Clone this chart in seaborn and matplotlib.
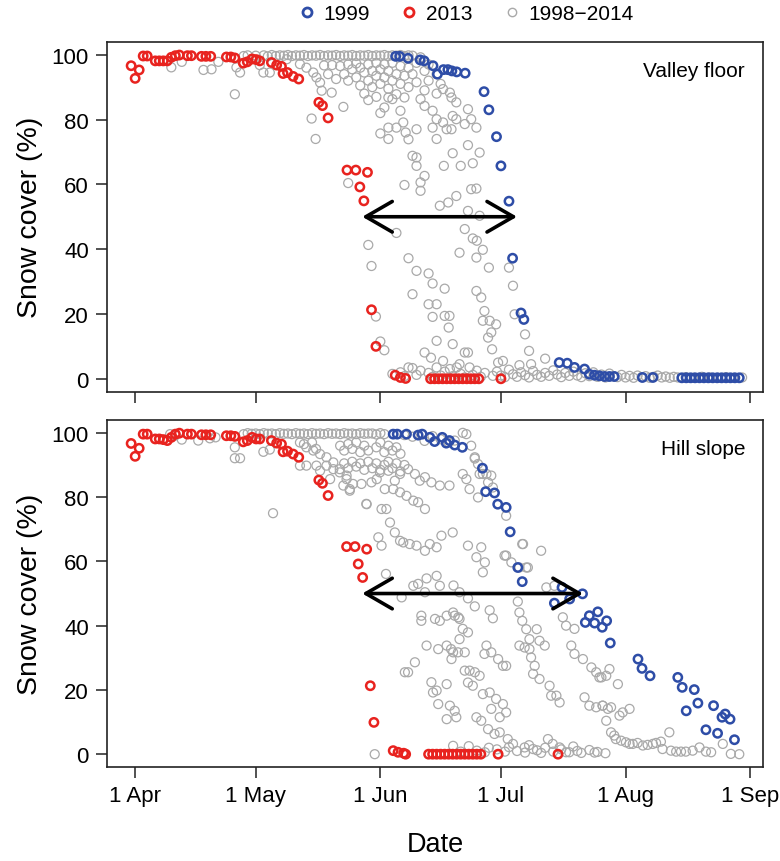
import matplotlib
matplotlib.use("Agg")
import matplotlib.pyplot as plt
from matplotlib.lines import Line2D
from matplotlib.patches import FancyArrowPatch
import seaborn as sns
import pandas as pd

# ---------------------------------------------------------------------------
# Data: day of year vs. fractional snow cover (%)
# ---------------------------------------------------------------------------
month_ticks = [91, 121, 152, 182, 213, 244]
month_labels = ["1 Apr", "1 May", "1 Jun", "1 Jul", "1 Aug", "1 Sep"]
legend_labels = ["1999", "2013", "1998\u22122014"]
panel_names = ["Valley floor", "Hill slope"]

# 2013 season, valley floor
valley_2013 = [
    (90, 96.6), (91, 92.7), (92, 95.3), (93, 99.6), (94, 99.6), (96, 98.1), (97, 98.1),
    (98, 98.1), (99, 98.1), (100, 99.2), (101, 99.7), (102, 99.9), (104, 99.7), (105, 99.7),
    (107.5, 99.5), (108.6, 99.5), (109.8, 99.5), (113.7, 99.3), (114.8, 99.3), (115.8, 99.0),
    (117.9, 97.4), (118.9, 97.8), (120.1, 98.7), (121.1, 98.5), (122, 98.1), (124.9, 97.6),
    (126.2, 96.8), (127.4, 96.4), (127.8, 94.2), (128.9, 94.5), (130.3, 93.3), (131.7, 92.5),
    (136.7, 85.3), (137.6, 84.3), (139, 80.5), (143.7, 64.4), (145.9, 64.4), (148.8, 63.7),
    (146.9, 59.2), (147.9, 54.9), (149.8, 21.3), (150.9, 10.0), (155.7, 1.1), (157, 0.4),
    (158.3, 0.1), (164.5, 0), (165.5, 0), (166.5, 0), (167.5, 0), (168.5, 0), (169.5, 0),
    (170.5, 0), (171.5, 0), (172.5, 0), (173.5, 0), (174.5, 0), (175.5, 0), (176.5, 0),
    (182, 0),
]

# 1999 season, valley floor
valley_1999 = [
    (155.8, 99.5), (156.8, 99.5), (158.9, 98.9), (161.9, 98.4), (162.9, 98.1), (165.1, 96.6),
    (166.2, 94.0), (167.7, 95.4), (168.8, 95.4), (169.8, 95.0), (171, 94.7), (173.1, 94.3),
    (177.8, 88.6), (179, 83.0), (180.9, 74.7), (182, 65.7), (184, 54.8), (184.9, 37.2),
    (187, 20.3), (187.7, 18.3), (196.5, 5.0), (198.5, 4.8), (200.3, 3.5), (202.8, 3.0),
    (204, 1.4), (205.3, 1.1), (206.5, 0.9), (207.8, 0.7), (209, 0.7), (210.2, 0.7),
    (217.2, 0.4), (219.8, 0.4), (227, 0.3), (228.1, 0.3), (229.2, 0.3), (230.3, 0.3),
    (231.4, 0.3), (232.5, 0.3), (233.6, 0.3), (234.7, 0.3), (235.8, 0.3), (236.9, 0.3),
    (238, 0.3), (239.1, 0.3), (240.2, 0.3), (241.3, 0.3),
]

# All seasons 1998-2014, valley floor
valley_all = [
    (100, 96.1), (102.6, 97.8), (108, 95.3), (110, 95.5), (111.7, 97.8), (115.8, 87.8),
    (116.2, 96.1), (117.1, 94.5), (118, 99.6), (119, 99.8), (120, 98.6), (121, 99.7),
    (122, 96.8), (122.9, 94.5), (123, 99.8), (124, 99.5), (124.5, 94.5), (125, 99.9),
    (126, 99.6), (127, 99.8), (128, 99.7), (128.7, 98.6), (129, 99.9), (130, 99.6),
    (131, 99.8), (132, 97.1), (132, 99.7), (133, 99.9), (133.6, 96.0), (134, 99.6),
    (134.9, 80.3), (135, 99.8), (135.3, 94.5), (135.9, 74.0), (136, 99.7), (136.1, 93.0),
    (137, 91.4), (137, 99.9), (137.4, 88.9), (138, 99.6), (138, 96.7), (139, 99.8),
    (139, 94.0), (139.9, 88.3), (140, 96.8), (140, 99.7), (141, 99.9), (141, 92.5),
    (142, 99.6), (142, 96.5), (142.8, 83.9), (143, 99.8), (143, 94.0), (144, 99.7),
    (144, 97.0), (144, 92.0), (144, 60.4), (145, 99.9), (145, 95.5), (146, 99.6),
    (146, 97.3), (146, 93.0), (147, 99.8), (147, 96.0), (147, 90.5), (148, 99.7),
    (148, 94.5), (148, 88.0), (149, 99.9), (149, 97.0), (149, 92.0), (149, 86.0),
    (149, 41.3), (149.8, 34.8), (150, 99.6), (150, 95.0), (150, 90.0), (151, 99.8),
    (151, 97.5), (151, 93.5), (151, 87.0), (150.9, 19.2), (152, 99.7), (152, 95.5),
    (152, 91.0), (152, 82.0), (152, 75.7), (152, 11.5), (153, 99.9), (153, 97.0),
    (153, 93.0), (153, 83.7), (153, 8.8), (154, 99.6), (154, 95.0), (154, 89.5),
    (154, 86.8), (154, 77.5), (154, 74.0), (155, 99.8), (155, 97.5), (155, 92.0),
    (155, 86.3), (156, 99.7), (156, 94.0), (156, 87.8), (156, 77.5), (156, 45.0),
    (157, 99.9), (157, 96.5), (157, 91.0), (157, 82.7), (157.7, 79.1), (158, 99.6),
    (158, 93.5), (158, 86.8), (158, 59.8), (158.3, 76.0), (159, 99.8), (159, 96.0),
    (159, 90.0), (159, 73.9), (159, 37.2), (159, 3.5), (160, 99.7), (160, 94.0),
    (160, 26.1), (160, 3.3), (160, 68.8), (161, 97.5), (161, 91.5), (161, 77.0),
    (161, 68.3), (161, 65.7), (161, 33.3), (162, 99.2), (162, 86.3), (162, 60.6),
    (162, 58.0), (163, 95.0), (163, 89.0), (163, 62.6), (163, 84.2), (163, 8.1),
    (164, 97.0), (164, 92.0), (164, 32.5), (164, 23.0), (164.6, 6.5), (165, 82.7),
    (165, 77.5), (165, 29.4), (165, 19.1), (166, 94.0), (166, 88.0), (166, 80.1),
    (166, 74.0), (166, 23.0), (166, 11.7), (166, 3.5), (166.8, 53.4), (167, 91.0),
    (167.6, 79.1), (167.6, 89.4), (167.6, 5.5), (167.8, 65.7), (168, 27.8), (168, 19.4),
    (168.5, 77.0), (168.9, 54.4), (169, 15.8), (169.3, 88.3), (169.3, 3.0), (169.2, 19.4),
    (169.7, 86.8), (169.7, 77.0), (170, 81.1), (170, 69.6), (170, 10.7), (170.9, 85.3),
    (170.9, 80.1), (170.9, 56.4), (171, 3.5), (171.7, 38.9), (171.7, 4.5), (172, 65.7),
    (173, 78.6), (173, 46.2), (173, 8.1), (173.8, 83.2), (173.8, 72.1), (173.8, 51.8),
    (173.8, 8.1), (174.2, 3.5), (174.6, 80.1), (174.6, 58.5), (175, 66.5), (175, 43.3),
    (175.9, 77.5), (175.9, 58.7), (175.9, 37.4), (175.9, 27.1), (176, 42.6), (176.7, 69.8),
    (176.7, 50.3), (177.1, 25.1), (177.5, 39.8), (177.5, 17.9), (177.9, 20.9), (178.8, 12.7),
    (179, 34.3), (179.2, 17.9), (179.6, 14.3), (179.8, 9.1), (180.8, 16.8), (181.3, 5.0),
    (182.5, 5.5), (184, 34.3), (185, 28.7), (185.4, 19.9), (186.6, 4.2), (188, 13.7),
    (189, 8.6), (189.5, 4.5), (193, 6.2),
    (155, 1.5), (157, 2.0), (158, 0.8), (161, 1.2), (162, 2.5), (164, 1.8), (165, 0.6),
    (167, 1.0), (168, 2.2), (170, 0.8), (172, 1.5), (173, 0.4), (175, 1.2), (176, 2.5),
    (177, 0.6), (178, 1.8), (180, 0.9), (181, 2.2), (182, 1.0), (183, 0.5), (184, 2.8),
    (185, 1.4), (186, 0.6), (187, 2.0), (188, 1.1), (189, 0.4), (190, 2.4), (191, 1.2),
    (192, 0.6), (193, 1.8), (194, 0.9), (195, 2.6), (196, 1.3), (197, 0.5), (198, 1.8),
    (199, 0.9), (200, 2.2), (201, 1.0), (202, 0.5), (203, 1.7), (204, 0.8), (205, 2.0),
    (206, 0.6), (207, 1.3), (208, 0.4), (209, 1.6), (210, 0.8), (211, 0.5), (212, 1.2),
    (213, 0.4), (214, 0.9), (215, 0.3), (216, 1.0), (217, 0.5), (218, 0.8), (219, 0.3),
    (220, 0.6), (221, 1.0), (222, 0.4), (223, 0.7), (224, 0.3), (225, 0.6), (226, 0.4),
    (228, 0.5), (230, 0.3), (232, 0.6), (234, 0.4), (236, 0.3), (238, 0.5), (240, 0.3),
    (242, 0.4),
]

# 2013 season, hill slope
hill_2013 = [
    (90, 96.7), (91, 92.7), (92, 95.2), (93, 99.6), (94, 99.6), (96, 98.1), (97, 98.1),
    (98, 97.9), (99, 97.6), (100, 98.6), (101, 99.6), (102, 99.9), (104, 99.6), (105, 99.6),
    (107.5, 99.4), (108.6, 99.4), (109.8, 99.4), (113.7, 99.1), (114.8, 99.1), (115.8, 98.9),
    (117.9, 97.2), (118.9, 97.6), (120.1, 98.6), (121.1, 98.1), (122, 98.1), (124.9, 97.6),
    (126.2, 96.8), (127.4, 96.5), (127.8, 94.1), (128.9, 94.3), (130.3, 93.4), (131.7, 92.4),
    (136.7, 85.3), (137.6, 84.3), (139, 80.5), (143.6, 64.6), (145.7, 64.6), (148.6, 63.8),
    (146.5, 59.2), (147.6, 55.0), (149.5, 21.3), (150.4, 9.9), (155.2, 1.1), (156.4, 0.6),
    (157.8, 0.3), (158.3, 0.0), (164, 0), (165, 0), (166, 0), (167, 0), (168, 0), (169, 0),
    (170, 0), (171, 0), (172, 0), (173, 0), (174, 0), (175, 0), (176, 0), (177, 0),
    (181.3, 0), (196.2, 0),
]

# 1999 season, hill slope
hill_1999 = [
    (155.2, 99.6), (156.2, 99.6), (158.5, 99.6), (161.4, 99.3), (162.4, 99.6), (164.3, 98.6),
    (165.5, 97.3), (167.4, 98.6), (168.4, 96.8), (169.2, 97.6), (170.5, 96.2), (172.4, 95.5),
    (177.4, 89.0), (178.2, 81.7), (180.4, 81.3), (181.2, 77.8), (183.3, 76.8), (184.3, 69.2),
    (186.2, 58.1), (187.3, 53.7), (197.2, 51.9), (195.3, 47.0), (199.1, 48.3), (202.3, 49.9),
    (204, 43.1), (206.1, 44.3), (203, 41.0), (205.3, 40.8), (207.2, 39.5), (208.3, 41.5),
    (209.2, 34.6), (216.1, 29.6), (217.1, 26.7), (219.1, 24.4), (226, 23.9), (227.1, 20.8),
    (230.1, 20.1), (228.1, 13.5), (231, 15.9), (234.9, 15.1), (237, 11.5), (237.8, 12.5),
    (239, 10.9), (233, 7.6), (235.9, 6.5), (240.1, 4.5),
]

# All seasons 1998-2014, hill slope
hill_all = [
    (99.7, 99.6), (101, 99.2), (102.6, 97.9), (106.7, 97.6), (109.6, 98.3), (111, 98.6),
    (115.8, 95.5), (115.8, 92.1), (117.1, 92.1), (122.9, 94.1), (124.5, 94.8), (125.3, 75.0),
    (118, 99.6), (119, 99.9), (120, 99.7), (121, 99.8), (122, 99.6), (123, 99.9), (124, 99.7),
    (125, 99.8), (126, 99.6), (127, 99.9), (128, 99.7), (129, 99.8), (130, 99.6), (131, 99.9),
    (132, 99.7), (133, 99.8), (134, 99.6), (135, 99.9), (136, 99.7), (137, 99.8), (138, 99.6),
    (139, 99.9), (140, 99.7), (141, 99.8), (142, 99.6), (143, 99.9), (144, 99.7), (145, 99.8),
    (146, 99.6), (147, 99.9), (148, 99.7), (149, 99.8), (150, 99.8), (151, 99.5), (152, 99.9),
    (153, 99.6), (158, 99.3), (160, 98.8), (163, 97.5), (165, 99.0), (167, 98.0), (169, 97.0),
    (172.5, 100.0), (173.4, 99.6),
    (132, 97.0), (133.6, 95.5), (135.3, 94.5), (137, 93.4), (138.6, 92.4), (140.3, 90.8),
    (141.9, 88.7), (143.6, 86.7), (145.2, 84.1), (132, 89.8), (133.6, 89.8), (136.1, 89.8),
    (138.6, 89.8), (140.3, 88.7), (141.9, 87.7), (143.6, 85.6), (144.4, 82.5), (148.5, 77.9),
    (133, 96.5), (135, 97.0), (136, 95.0), (142, 96.0), (143, 94.5), (144, 96.5), (145, 95.0),
    (146, 97.0), (147, 94.0), (148, 96.0), (149, 94.5), (151, 95.5), (152, 97.0), (153, 94.0),
    (154, 96.0), (155, 94.5), (156, 95.5), (157, 93.5),
    (143, 90.5), (144, 89.0), (145, 91.0), (146, 89.5), (147, 90.5), (148, 88.5), (149, 91.0),
    (150, 89.0), (151, 90.5), (152, 88.5), (153, 90.0), (154, 91.0), (155, 89.0), (156, 90.5),
    (157, 88.0), (158, 90.0),
    (137, 88.2), (139.5, 85.6), (142.8, 83.6), (144.4, 82.0), (148.6, 77.8), (152.3, 76.3),
    (153.5, 76.3), (147.3, 84.1), (149.8, 84.6), (151.9, 87.7), (154, 88.2), (155.6, 85.1),
    (156.9, 87.2), (158.9, 88.7), (160.6, 87.2), (161.8, 85.1), (163.1, 86.2), (164.7, 84.6),
    (166.8, 83.6), (151.1, 85.6), (153.1, 82.5), (155.2, 82.5), (156.9, 81.5), (158.5, 80.4),
    (160.2, 78.9), (161.4, 78.4), (163.1, 76.3), (154.4, 72.1), (155.6, 69.0), (156.9, 66.4),
    (157.7, 65.9), (159.3, 65.4), (161, 64.9), (163.1, 63.3), (164.3, 65.4), (166, 64.4),
    (167.2, 68.0), (151.5, 67.5), (152.3, 64.9), (153.4, 56.1), (157.3, 48.8), (160.2, 52.4),
    (161.4, 53.0), (163.5, 54.7), (163.1, 50.4), (166, 55.5), (166.8, 52.4), (162.2, 43.1),
    (162.2, 41.5), (165.6, 42.1), (166.8, 41.5), (168.5, 43.1), (170.1, 44.1), (171.4, 42.6),
    (163.5, 33.8), (166.4, 32.7), (168.5, 33.8), (170.1, 31.7), (169.7, 29.6), (160.6, 28.6),
    (158.9, 25.5), (158.1, 25.5), (164.7, 22.4), (166, 19.8), (165.1, 19.2), (168.5, 21.8),
    (166.4, 15.6), (169.3, 15.1), (170.5, 13.5), (168.5, 10.9), (170.9, 11.5), (150.6, 0.0),
    (170.1, 2.6),
    (170.5, 97.6), (174.6, 96.0), (175.5, 92.4), (177.5, 87.2), (178.8, 84.6), (174.2, 82.5),
    (176.3, 79.9), (173.4, 85.6), (172.5, 87.2), (169.2, 83.6), (170, 69.0), (173.8, 64.9),
    (175.9, 61.3), (177.1, 64.4), (178, 59.7), (177.5, 56.6), (182.9, 61.8), (184.6, 59.7),
    (186.6, 58.1), (188.7, 58.1), (187.5, 65.4), (192, 63.3), (193.3, 51.9), (195.3, 52.4),
    (186.2, 47.5), (186.6, 44.1), (187.3, 41.5), (188.3, 38.9), (189.1, 35.8), (190.9, 38.9),
    (191.6, 35.3), (192.9, 33.8), (189.1, 32.7), (187.9, 33.2), (186.6, 33.8), (189.5, 30.1),
    (190.4, 27.5), (190, 25.0), (191.6, 23.4), (194.1, 21.3), (194.5, 18.2), (195.8, 18.2),
    (196.6, 16.1), (178.4, 33.8), (179.6, 31.7), (177.9, 31.2), (181.3, 29.6), (182.5, 27.5),
    (183.3, 27.5), (170.5, 43.1), (171.7, 42.1), (172.5, 39.0), (173.8, 37.9), (171.7, 35.8),
    (171.3, 31.7), (169.6, 32.7), (173, 31.7), (173, 26.0), (174.2, 26.0), (175.5, 25.5),
    (176.7, 24.4), (173.8, 22.3), (175, 21.3), (177.5, 18.7), (179.2, 19.2), (180.8, 17.2),
    (182.5, 15.6), (179.6, 14.1), (181.7, 11.5), (183.3, 13.0), (175.9, 11.5), (177.1, 10.4),
    (178.8, 7.8), (180.4, 6.3), (181.7, 6.8), (183.7, 4.7), (185, 3.2), (187.9, 2.1),
    (190, 1.6), (193.7, 4.7), (194.9, 3.2), (196.6, 2.1), (198.2, 0.6), (197.4, 42.6),
    (198.2, 40.0), (200.3, 39.0), (199.5, 33.8), (200.3, 31.2), (202.4, 29.6), (204.5, 27.0),
    (205.7, 25.5), (207, 23.9), (208.2, 24.4), (202.8, 17.7), (204, 15.1), (205.7, 14.6),
    (207.3, 15.1), (208.6, 14.1), (205.3, 0.5), (179.2, 44.8), (180, 42.3), (173.8, 48.5),
    (175.5, 46.0), (171.7, 50.4), (170.2, 52.5), (175.5, 92.0), (176.3, 90.3), (176.7, 87.2),
    (178.4, 87.2), (179.6, 86.7), (180, 83.0), (183.3, 74.2), (187.3, 65.4), (188.3, 58.1),
    (183.3, 61.8),
    (181, 1.5), (183, 0.8), (184, 2.2), (186, 1.0), (188, 0.5), (189, 2.8), (191, 1.2),
    (192, 0.4), (193, 2.0), (195, 0.8), (197, 1.5), (199, 0.6), (200, 2.4), (201, 1.0),
    (202, 0.4), (204, 1.3), (206, 0.7), (208, 0.3), (172, 0.8), (174, 2.5), (176, 1.1),
    (178, 0.6), (179, 2.0),
    (209, 26.5), (211.1, 21.8), (206.5, 23.9), (207.3, 15.1), (209.4, 14.6), (208.2, 10.4),
    (209.4, 6.8), (210.2, 5.8), (211.5, 12.0), (212.3, 13.0), (214, 14.1), (210.6, 4.7),
    (211.9, 4.2), (213.1, 3.7), (214, 3.2), (214.8, 3.2), (216, 3.5), (217.3, 2.7),
    (218.5, 2.9), (219.8, 3.2), (220.6, 3.5), (221.8, 3.9), (223.9, 6.8), (222.2, 1.6),
    (224.3, 1.1), (225.6, 0.8), (226.8, 0.8), (228, 0.8), (229.7, 1.1), (231.4, 2.1),
    (233, 0.8), (234.3, 0.6), (237.2, 3.2), (239.2, 0.1), (241.3, 0.0),
]

# Dates at which each highlighted season crosses 50 % cover
valley_span = (147.5, 186.0)
hill_span = (147.5, 202.4)

# ---------------------------------------------------------------------------
# Styling
# ---------------------------------------------------------------------------
sns.set_style("ticks")
plt.rcParams["font.family"] = ["Liberation Sans", "DejaVu Sans"]
plt.rcParams["text.color"] = "black"
plt.rcParams["axes.labelcolor"] = "black"
plt.rcParams["xtick.color"] = "black"
plt.rcParams["ytick.color"] = "black"

BLUE = "#2E4DA7"
RED = "#E8231F"
GREY = "#A9A9A9"

fig = plt.figure(figsize=(7.8, 8.62), dpi=100)
ax_top = fig.add_axes([0.1372, 0.5444, 0.8410, 0.4060])
ax_bot = fig.add_axes([0.1372, 0.1090, 0.8410, 0.4026])


def to_frame(points):
    return pd.DataFrame(points, columns=["day", "cover"])


def draw_panel(ax, grey_pts, red_pts, blue_pts, span, title, show_xlabels):
    sns.scatterplot(data=to_frame(grey_pts), x="day", y="cover", ax=ax,
                    marker="o", s=42, facecolors="none", edgecolor=GREY,
                    linewidth=0.9, legend=False, zorder=2)
    sns.scatterplot(data=to_frame(red_pts), x="day", y="cover", ax=ax,
                    marker="o", s=36, facecolors="none", edgecolor=RED,
                    linewidth=1.8, legend=False, zorder=3)
    sns.scatterplot(data=to_frame(blue_pts), x="day", y="cover", ax=ax,
                    marker="o", s=36, facecolors="none", edgecolor=BLUE,
                    linewidth=1.8, legend=False, zorder=3)

    arrow = FancyArrowPatch((span[0], 50), (span[1], 50),
                            arrowstyle="<->,head_length=19,head_width=11",
                            mutation_scale=1, color="black", lw=2.6,
                            shrinkA=0, shrinkB=0, zorder=5)
    ax.add_patch(arrow)

    ax.set_xlim(84, 247.2)
    ax.set_ylim(-4, 104)
    ax.set_xticks(month_ticks)
    ax.set_yticks([0, 20, 40, 60, 80, 100])
    if show_xlabels:
        ax.set_xticklabels(month_labels)
    else:
        ax.set_xticklabels([])
    ax.tick_params(axis="both", direction="out", length=8, width=1.1,
                   color="#222222", labelcolor="black", labelsize=16, pad=5)
    for side in ["left", "right", "top", "bottom"]:
        ax.spines[side].set_visible(True)
        ax.spines[side].set_linewidth(1.2)
        ax.spines[side].set_color("#222222")
    ax.set_xlabel("")
    ax.set_ylabel("Snow cover (%)", fontsize=20.5)
    ax.yaxis.set_label_coords(-0.098, 0.5)
    ax.text(0.9726, 0.918, title, transform=ax.transAxes, ha="right",
            va="center", fontsize=15)


draw_panel(ax_top, valley_all, valley_2013, valley_1999, valley_span,
           panel_names[0], False)
draw_panel(ax_bot, hill_all, hill_2013, hill_1999, hill_span,
           panel_names[1], True)

ax_bot.set_xlabel("Date", fontsize=19.5)
ax_bot.xaxis.set_label_coords(0.5, -0.185)

handles = [
    Line2D([], [], ls="none", marker="o", markersize=6.5, markerfacecolor="none",
           markeredgecolor=BLUE, markeredgewidth=2.0),
    Line2D([], [], ls="none", marker="o", markersize=6.5, markerfacecolor="none",
           markeredgecolor=RED, markeredgewidth=2.0),
    Line2D([], [], ls="none", marker="o", markersize=6.0, markerfacecolor="none",
           markeredgecolor=GREY, markeredgewidth=1.0),
]
fig.legend(handles, legend_labels, loc="center", ncol=3,
           bbox_to_anchor=(465 / 780, 1 - 15 / 862), frameon=False,
           fontsize=15, handletextpad=0.3, columnspacing=1.4, handlelength=1.0)

fig.savefig("out.png", dpi=100)
